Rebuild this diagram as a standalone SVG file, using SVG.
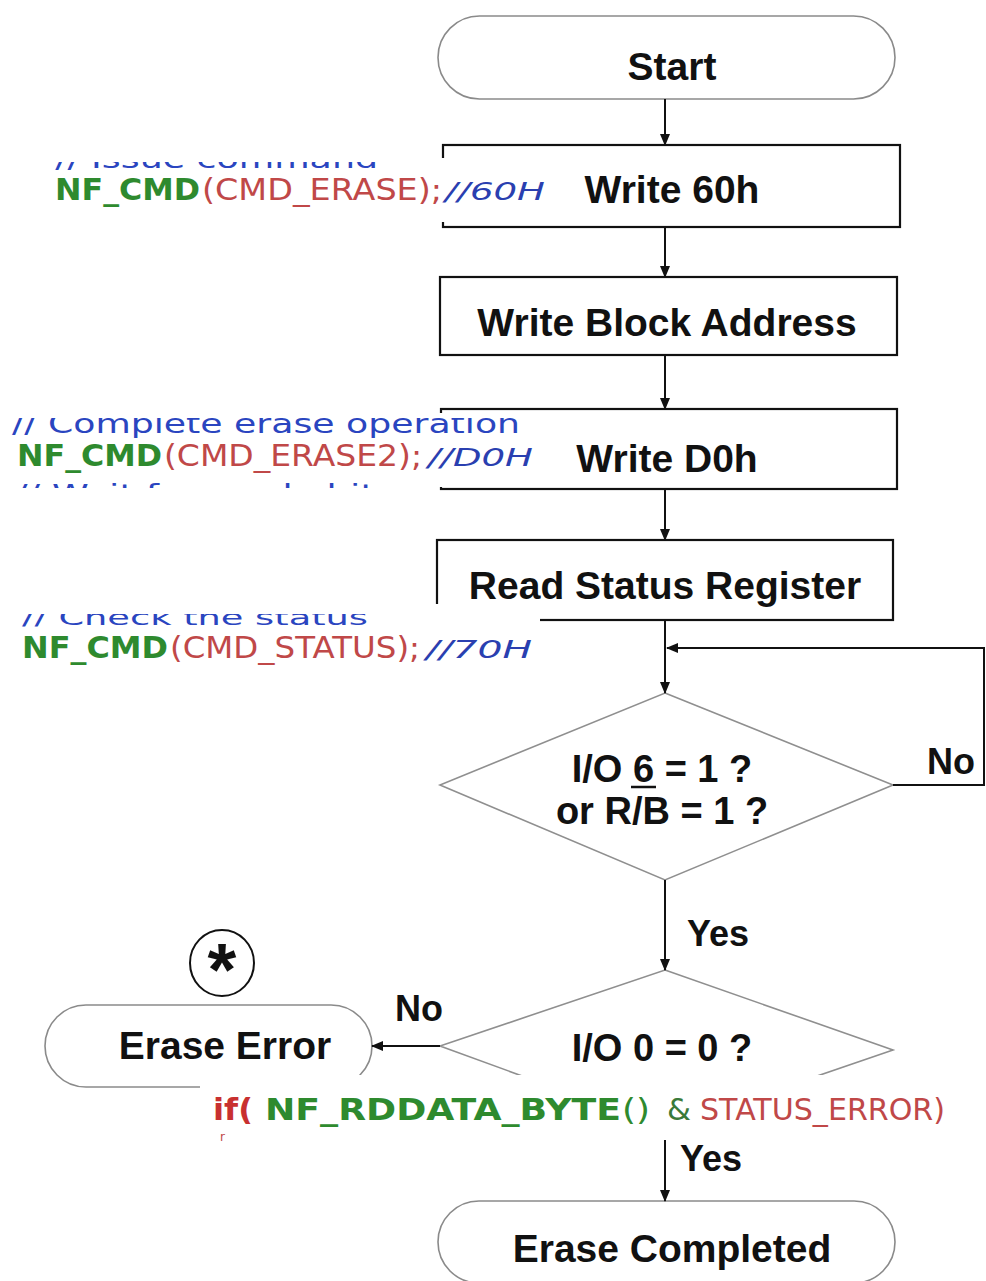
<svg xmlns="http://www.w3.org/2000/svg" width="986" height="1281" viewBox="0 0 986 1281">
<style>
.term{fill:#fff;stroke:#8a8a8a;stroke-width:1.6}
.box{fill:#fff;stroke:#111;stroke-width:2.2}
.dia{fill:#fff;stroke:#8f8f8f;stroke-width:1.6}
.lbl{font-family:"Liberation Sans",Arial,sans-serif;font-weight:bold;font-size:39px;fill:#111;text-anchor:middle}
.edge{font-family:"Liberation Sans",Arial,sans-serif;font-weight:bold;font-size:36px;fill:#111}
.conn{fill:none;stroke:#111;stroke-width:2}
.code{font-family:"DejaVu Sans",Verdana,sans-serif;font-size:31px}
.g{fill:#2e8a2e;font-weight:bold}
.r{fill:#c04848}
.c{fill:#2a3fb0;font-style:italic;font-size:25px}
.cm{fill:#2a45c0;font-size:24px}
.ov{fill:#fff}
</style>
<defs>
<marker id="ah" markerWidth="12" markerHeight="10" refX="11" refY="5" orient="auto" markerUnits="userSpaceOnUse">
<path d="M0,0 L12,5 L0,10 Z" fill="#111"/>
</marker>
<clipPath id="clipA"><rect x="0" y="162" width="552" height="8"/></clipPath>
<clipPath id="clipB1"><rect x="0" y="418" width="540" height="20"/></clipPath>
<clipPath id="clipB2"><rect x="0" y="482" width="540" height="6"/></clipPath>
<clipPath id="clipC"><rect x="0" y="614" width="540" height="14"/></clipPath>
</defs>

<g id="start">
<rect class="term" x="438" y="16" width="457" height="83" rx="41.5" ry="41.5"/>
<text class="lbl" x="672" y="80">Start</text>
</g>
<g id="write60">
<rect class="box" x="443" y="145" width="457" height="82"/>
<text class="lbl" x="672" y="203">Write 60h</text>
</g>
<g id="writeaddr">
<rect class="box" x="440" y="277" width="457" height="78"/>
<text class="lbl" x="667" y="336">Write Block Address</text>
</g>
<g id="writed0">
<rect class="box" x="441" y="409" width="456" height="80"/>
<text class="lbl" x="667" y="472">Write D0h</text>
</g>
<g id="readstatus">
<rect class="box" x="437" y="540" width="456" height="80"/>
<text class="lbl" x="665" y="599">Read Status Register</text>
</g>
<g id="decision1">
<polygon class="dia" points="665,693 893,785 665,880 440,785"/>
<text class="lbl" x="662" y="782" style="font-size:38px">I/O 6 = 1 ?</text>
<text class="lbl" x="662" y="824" style="font-size:38px">or R/B = 1 ?</text>
<line x1="631" y1="787" x2="656" y2="787" stroke="#111" stroke-width="2.5"/>
</g>
<g id="decision2">
<polygon class="dia" points="665,970 893,1050 665,1128 440,1046"/>
<text class="lbl" x="662" y="1061" style="font-size:38px">I/O 0 = 0 ?</text>
</g>
<g id="eraseerror">
<rect class="term" x="45" y="1005" width="327" height="82" rx="41" ry="41"/>
<text class="lbl" x="225" y="1059">Erase Error</text>
</g>
<g id="star">
<ellipse cx="222" cy="963" rx="32" ry="33" fill="#fff" stroke="#111" stroke-width="2"/>
<text class="lbl" x="222" y="995" style="font-size:74px">*</text>
</g>
<g id="erasecompleted">
<rect class="term" x="438" y="1201" width="457" height="82" rx="41" ry="41"/>
<text class="lbl" x="672" y="1262">Erase Completed</text>
</g>

<g id="connectors">
<line class="conn" x1="665" y1="99" x2="665" y2="145" marker-end="url(#ah)"/>
<line class="conn" x1="665" y1="227" x2="665" y2="277" marker-end="url(#ah)"/>
<line class="conn" x1="665" y1="355" x2="665" y2="409" marker-end="url(#ah)"/>
<line class="conn" x1="665" y1="489" x2="665" y2="540" marker-end="url(#ah)"/>
<line class="conn" x1="665" y1="620" x2="665" y2="693" marker-end="url(#ah)"/>
<polyline class="conn" points="893,785 984,785 984,648 667,648" marker-end="url(#ah)"/>
<line class="conn" x1="665" y1="880" x2="665" y2="970" marker-end="url(#ah)"/>
<line class="conn" x1="440" y1="1046" x2="372" y2="1046" marker-end="url(#ah)"/>
<line class="conn" x1="665" y1="1140" x2="665" y2="1201" marker-end="url(#ah)"/>
<text class="edge" x="927" y="774">No</text>
<text class="edge" x="687" y="946">Yes</text>
<text class="edge" x="395" y="1021">No</text>
<text class="edge" x="680" y="1171">Yes</text>
</g>

<g id="code1">
<rect class="ov" x="0" y="158" width="552" height="64"/>
<text class="code cm" x="55" y="168" textLength="323" lengthAdjust="spacingAndGlyphs" clip-path="url(#clipA)">// Issue command</text>
<text class="code g" x="55" y="200" textLength="145" lengthAdjust="spacingAndGlyphs">NF_CMD</text>
<text class="code r" x="202" y="200" textLength="240" lengthAdjust="spacingAndGlyphs">(CMD_ERASE);</text>
<text class="code c" x="445" y="200" textLength="100" lengthAdjust="spacingAndGlyphs">//60H</text>
</g>
<g id="code2">
<rect class="ov" x="0" y="413" width="540" height="74"/>
<text class="code cm" x="12" y="433" style="font-size:26px" textLength="508" lengthAdjust="spacingAndGlyphs" clip-path="url(#clipB1)">// Complete erase operation</text>
<text class="code g" x="17" y="466" textLength="145" lengthAdjust="spacingAndGlyphs">NF_CMD</text>
<text class="code r" x="164" y="466" textLength="258" lengthAdjust="spacingAndGlyphs">(CMD_ERASE2);</text>
<text class="code c" x="428" y="466" textLength="105" lengthAdjust="spacingAndGlyphs">//D0H</text>
<text class="code cm" x="15" y="502" textLength="360" lengthAdjust="spacingAndGlyphs" clip-path="url(#clipB2)">// Wait for ready bit</text>
</g>
<g id="code3">
<rect class="ov" x="0" y="604" width="540" height="68"/>
<text class="code cm" x="22" y="625" style="font-size:22px" textLength="346" lengthAdjust="spacingAndGlyphs" clip-path="url(#clipC)">// Check the status</text>
<text class="code g" x="22" y="658" textLength="146" lengthAdjust="spacingAndGlyphs">NF_CMD</text>
<text class="code r" x="170" y="658" textLength="250" lengthAdjust="spacingAndGlyphs">(CMD_STATUS);</text>
<text class="code c" x="426" y="658" textLength="106" lengthAdjust="spacingAndGlyphs">//70H</text>
</g>
<g id="code4">
<rect class="ov" x="200" y="1075" width="756" height="63"/>
<text class="code" x="213" y="1120" font-weight="bold" fill="#c83030" textLength="40" lengthAdjust="spacingAndGlyphs">if(</text>
<text class="code g" x="265" y="1120" textLength="356" lengthAdjust="spacingAndGlyphs">NF_RDDATA_BYTE</text>
<text class="code" x="622" y="1120" fill="#2e8a2e" textLength="28" lengthAdjust="spacingAndGlyphs">()</text>
<text class="code" x="667" y="1120" fill="#3a7a3a" textLength="24" lengthAdjust="spacingAndGlyphs">&amp;</text>
<text class="code r" x="700" y="1120" textLength="245" lengthAdjust="spacingAndGlyphs">STATUS_ERROR)</text>
<text class="code r" x="220" y="1141" style="font-size:12px">r</text>
</g>
</svg>
